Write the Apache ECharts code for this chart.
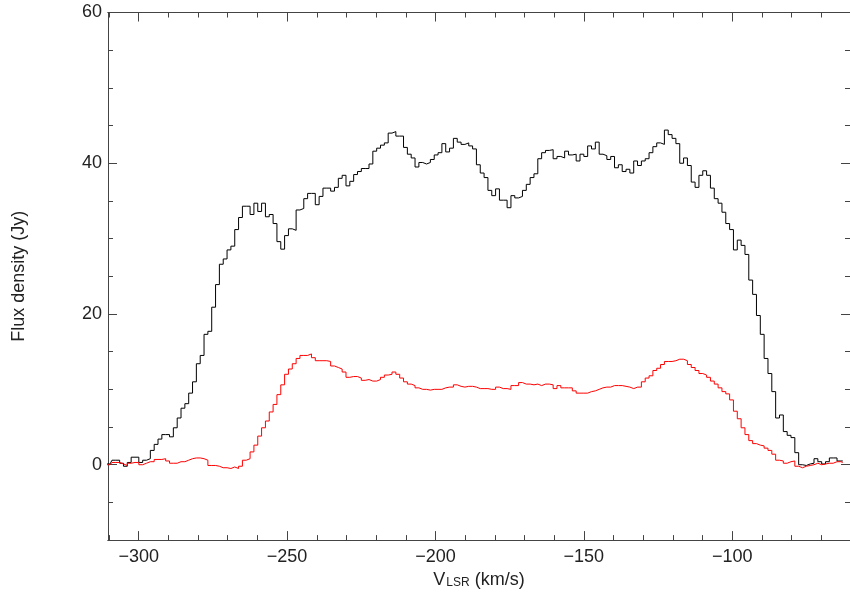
<!DOCTYPE html>
<html>
<head>
<meta charset="utf-8">
<script src="https://cdn.jsdelivr.net/npm/echarts@6/dist/echarts.min.js"></script>
<style>html,body{margin:0;padding:0;background:#fff}#c{width:850px;height:594px}</style>
</head>
<body>
<div id="c"></div>
<script>
// Spectral channel grid (km/s): first channel centre and channel width
const V0 = -310.95;
const DV = 1.2928;

// Flux density (Jy) per channel, black spectrum
const blackFlux = [
  0.1, 0.1, 0.6, 0.6, 0.2, -0.2, 0.3, 1.0, 1.0, 0.3,
  0.6, 0.8, 1.9, 2.7, 3.4, 4.0, 4.0, 3.7, 4.9, 6.2,
  7.5, 8.1, 9.5, 11.0, 13.4, 14.5, 17.3, 17.7, 20.9, 23.9,
  26.6, 27.3, 28.5, 29.0, 31.2, 32.8, 34.3, 34.3, 33.2, 34.7,
  33.6, 34.7, 32.9, 33.2, 32.0, 29.6, 28.6, 30.4, 31.3, 31.1,
  33.8, 34.0, 35.3, 36.0, 36.0, 34.5, 35.6, 36.7, 36.7, 36.3,
  36.8, 38.0, 38.4, 37.0, 37.6, 38.5, 38.9, 39.3, 39.3, 39.9,
  41.6, 42.0, 42.4, 42.7, 44.0, 44.2, 43.6, 43.6, 42.1, 41.2,
  40.7, 39.5, 40.1, 39.9, 40.1, 40.5, 41.1, 41.4, 42.6, 41.5,
  42.0, 43.3, 42.8, 42.5, 42.7, 42.3, 41.9, 39.8, 38.7, 38.1,
  36.4, 35.7, 36.6, 35.1, 35.1, 34.1, 35.7, 35.4, 35.6, 36.4,
  37.2, 38.1, 38.6, 40.6, 41.4, 41.7, 41.8, 40.6, 40.9, 40.7,
  41.6, 41.1, 41.2, 40.3, 41.2, 40.9, 42.3, 41.9, 42.8, 41.2,
  41.0, 40.5, 40.9, 39.4, 39.8, 38.9, 39.2, 38.7, 40.3, 39.7,
  40.3, 40.6, 41.4, 42.2, 42.7, 42.5, 44.4, 43.8, 43.3, 42.6,
  40.0, 40.7, 39.7, 37.5, 36.8, 38.4, 39.0, 38.4, 36.7, 35.3,
  34.7, 33.5, 32.0, 31.2, 28.5, 29.8, 29.1, 27.9, 24.5, 22.6,
  19.8, 17.3, 14.1, 12.1, 9.7, 6.2, 6.6, 4.4, 3.9, 3.6,
  1.6, 0.0, -0.1, 0.1, 0.2, 0.8, 0.4, 0.1, 0.4, 0.9,
  0.9, 0.5, 0.5
];

// Flux density (Jy) per channel, red spectrum
const redFlux = [
  0.0, 0.0, 0.3, 0.3, 0.1, -0.1, 0.2, 0.3, 0.3, 0.0,
  0.2, 0.4, 0.4, 0.7, 0.7, 0.8, 0.5, 0.2, 0.2, 0.4,
  0.4, 0.6, 0.8, 0.9, 0.9, 0.8, 0.6, -0.1, -0.1, -0.2,
  -0.4, -0.4, -0.5, -0.3, -0.5, -0.2, 0.6, 0.8, 1.7, 2.6,
  3.8, 4.9, 5.8, 7.0, 8.0, 9.3, 10.6, 12.0, 12.7, 13.4,
  14.1, 14.5, 14.5, 14.7, 14.2, 13.8, 13.8, 13.8, 13.7, 13.1,
  12.9, 12.7, 12.3, 11.6, 11.7, 11.7, 11.5, 11.2, 11.3, 11.1,
  11.1, 11.3, 11.6, 11.9, 12.0, 12.3, 12.0, 11.5, 11.0, 10.7,
  10.5, 10.2, 10.0, 10.0, 9.9, 10.0, 10.0, 10.0, 10.2, 10.3,
  10.3, 10.6, 10.4, 10.3, 10.4, 10.4, 10.3, 10.1, 10.1, 10.1,
  10.0, 10.0, 10.3, 10.1, 10.1, 10.0, 10.5, 10.5, 10.9, 10.7,
  10.7, 10.6, 10.7, 10.5, 10.7, 10.7, 10.6, 10.1, 10.5, 10.2,
  10.2, 10.2, 9.8, 9.5, 9.5, 9.5, 9.7, 9.8, 10.0, 10.2,
  10.3, 10.3, 10.5, 10.5, 10.5, 10.4, 10.3, 10.1, 10.3, 10.3,
  11.0, 11.5, 11.8, 12.5, 12.8, 13.3, 13.7, 13.7, 13.8, 14.0,
  14.0, 13.8, 13.3, 12.9, 12.5, 12.1, 11.9, 11.6, 11.1, 10.7,
  10.2, 9.7, 9.4, 8.6, 7.1, 6.1, 4.9, 4.0, 3.2, 2.8,
  2.6, 2.5, 2.2, 1.9, 1.4, 0.6, 0.5, 0.2, 0.4, 0.5,
  -0.2, -0.4, -0.2, -0.1, 0.0, 0.2, 0.0, 0.1, 0.2, 0.2,
  0.4, 0.4, 0.3
];

// Axis ranges and ticks
const X_MIN = -310.35, X_MAX = -60.3;
const Y_MIN = -10, Y_MAX = 60;
const xMajorTicks = [-300, -250, -200, -150, -100];
const xMinorTicks = [-310, -290, -280, -270, -260, -240, -230, -220, -210, -190, -180, -170, -160, -140, -130, -120, -110, -90, -80, -70];
const yMajorTicks = [0, 20, 40, 60];
const yMinorTicks = [-5, 5, 10, 15, 25, 30, 35, 45, 50, 55];

const velocities = blackFlux.map((_, i) => V0 + i * DV);
const blackData = velocities.map((v, i) => [v, blackFlux[i]]);
const redData = velocities.map((v, i) => [v, redFlux[i]]);

const AX = '#444';
const TXT = '#222';
const FONT = '"Liberation Sans", Arial, sans-serif';
const fmt = v => String(v).replace('-', '\u2212');

function xAxisDef(pos, ticks, len, withLabels) {
  const a = {
    type: 'value', position: pos, min: X_MIN, max: X_MAX,
    axisLine: { show: true, onZero: false, lineStyle: { color: AX, width: 1 } },
    axisTick: { show: true, inside: true, length: len, customValues: ticks, lineStyle: { color: AX, width: 1 } },
    axisLabel: { show: withLabels, customValues: ticks, formatter: fmt, margin: 8, color: TXT, fontSize: 18, fontFamily: FONT },
    splitLine: { show: false }
  };
  if (withLabels) {
    a.name = '{v|V}{s|LSR}{v| (km/s)}';
    a.nameLocation = 'middle';
    a.nameGap = 26;
    a.nameTextStyle = {
      color: TXT, fontFamily: FONT, fontSize: 18,
      rich: {
        v: { fontSize: 18, color: TXT, fontFamily: FONT },
        s: { fontSize: 12, color: TXT, fontFamily: FONT, verticalAlign: 'bottom', padding: [0, 0, 0, 1] }
      }
    };
  }
  return a;
}

function yAxisDef(pos, ticks, len, withLabels) {
  const a = {
    type: 'value', position: pos, min: Y_MIN, max: Y_MAX,
    axisLine: { show: true, onZero: false, lineStyle: { color: AX, width: 1 } },
    axisTick: { show: true, inside: true, length: len, customValues: ticks, lineStyle: { color: AX, width: 1 } },
    axisLabel: { show: withLabels, customValues: ticks, formatter: fmt, margin: 6, color: TXT, fontSize: 18, fontFamily: FONT },
    splitLine: { show: false }
  };
  if (withLabels) {
    a.name = 'Flux density (Jy)';
    a.nameLocation = 'middle';
    a.nameGap = 80;
    a.nameTextStyle = { color: TXT, fontFamily: FONT, fontSize: 18 };
  }
  return a;
}

const chart = echarts.init(document.getElementById('c'), null, { renderer: 'canvas' });
chart.setOption({
  animation: false,
  backgroundColor: '#fff',
  grid: { left: 108, top: 12.5, width: 749, height: 530.5, containLabel: false },
  xAxis: [
    xAxisDef('bottom', xMajorTicks, 9, true),
    xAxisDef('bottom', xMinorTicks, 5, false),
    xAxisDef('top', xMajorTicks, 9, false),
    xAxisDef('top', xMinorTicks, 5, false)
  ],
  yAxis: [
    yAxisDef('left', yMajorTicks, 9, true),
    yAxisDef('left', yMinorTicks, 5, false),
    yAxisDef('right', yMajorTicks, 9, false),
    yAxisDef('right', yMinorTicks, 5, false)
  ],
  series: [
    {
      name: 'black', type: 'line', step: 'middle', data: blackData,
      xAxisIndex: 0, yAxisIndex: 0, showSymbol: false, symbol: 'none',
      lineStyle: { color: '#000', width: 1 }, clip: true, z: 3
    },
    {
      name: 'red', type: 'line', step: 'middle', data: redData,
      xAxisIndex: 0, yAxisIndex: 0, showSymbol: false, symbol: 'none',
      lineStyle: { color: '#ff0000', width: 1 }, clip: true, z: 4
    }
  ]
});
</script>
</body>
</html>
